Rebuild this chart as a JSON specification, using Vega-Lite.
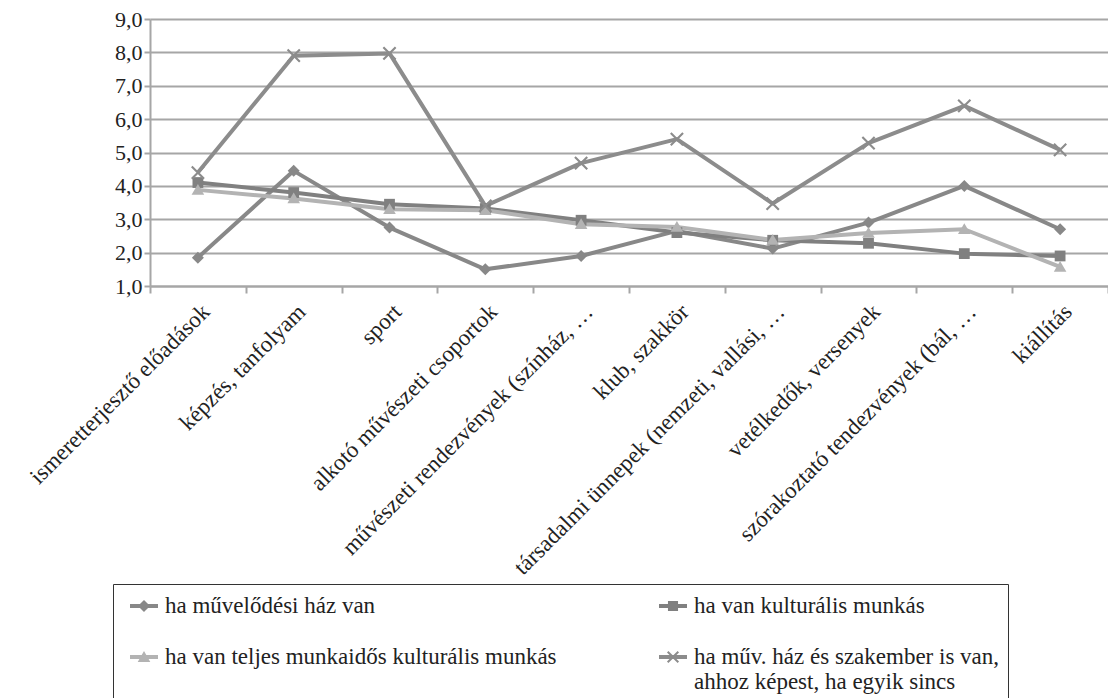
{
  "$schema": "https://vega.github.io/schema/vega-lite/v6.json",
  "width": 958,
  "height": 267,
  "autosize": {"type": "none"},
  "padding": {"left": 150, "top": 19, "right": 0, "bottom": 412},
  "background": "white",
  "config": {"view": {"stroke": null}, "font": "Liberation Serif"},
  "data": {"values": [
    {"kat": "ismeretterjesztő előadások", "s": "ha művelődési ház van", "v": 1.85},
    {"kat": "képzés, tanfolyam", "s": "ha művelődési ház van", "v": 4.45},
    {"kat": "sport", "s": "ha művelődési ház van", "v": 2.75},
    {"kat": "alkotó művészeti csoportok", "s": "ha művelődési ház van", "v": 1.5},
    {"kat": "művészeti rendezvények (színház, …", "s": "ha művelődési ház van", "v": 1.9},
    {"kat": "klub, szakkör", "s": "ha művelődési ház van", "v": 2.65},
    {"kat": "társadalmi ünnepek (nemzeti, vallási, …", "s": "ha művelődési ház van", "v": 2.12},
    {"kat": "vetélkedők, versenyek", "s": "ha művelődési ház van", "v": 2.9},
    {"kat": "szórakoztató tendezvények (bál, …", "s": "ha művelődési ház van", "v": 4.0},
    {"kat": "kiállítás", "s": "ha művelődési ház van", "v": 2.7},
    {"kat": "ismeretterjesztő előadások", "s": "ha van kulturális munkás", "v": 4.1},
    {"kat": "képzés, tanfolyam", "s": "ha van kulturális munkás", "v": 3.8},
    {"kat": "sport", "s": "ha van kulturális munkás", "v": 3.45},
    {"kat": "alkotó művészeti csoportok", "s": "ha van kulturális munkás", "v": 3.32},
    {"kat": "művészeti rendezvények (színház, …", "s": "ha van kulturális munkás", "v": 2.97},
    {"kat": "klub, szakkör", "s": "ha van kulturális munkás", "v": 2.6},
    {"kat": "társadalmi ünnepek (nemzeti, vallási, …", "s": "ha van kulturális munkás", "v": 2.37},
    {"kat": "vetélkedők, versenyek", "s": "ha van kulturális munkás", "v": 2.28},
    {"kat": "szórakoztató tendezvények (bál, …", "s": "ha van kulturális munkás", "v": 1.97},
    {"kat": "kiállítás", "s": "ha van kulturális munkás", "v": 1.9},
    {"kat": "ismeretterjesztő előadások", "s": "ha van teljes munkaidős kulturális munkás", "v": 3.88},
    {"kat": "képzés, tanfolyam", "s": "ha van teljes munkaidős kulturális munkás", "v": 3.62},
    {"kat": "sport", "s": "ha van teljes munkaidős kulturális munkás", "v": 3.3},
    {"kat": "alkotó művészeti csoportok", "s": "ha van teljes munkaidős kulturális munkás", "v": 3.27},
    {"kat": "művészeti rendezvények (színház, …", "s": "ha van teljes munkaidős kulturális munkás", "v": 2.85},
    {"kat": "klub, szakkör", "s": "ha van teljes munkaidős kulturális munkás", "v": 2.77},
    {"kat": "társadalmi ünnepek (nemzeti, vallási, …", "s": "ha van teljes munkaidős kulturális munkás", "v": 2.38},
    {"kat": "vetélkedők, versenyek", "s": "ha van teljes munkaidős kulturális munkás", "v": 2.59},
    {"kat": "szórakoztató tendezvények (bál, …", "s": "ha van teljes munkaidős kulturális munkás", "v": 2.7},
    {"kat": "kiállítás", "s": "ha van teljes munkaidős kulturális munkás", "v": 1.57},
    {"kat": "ismeretterjesztő előadások", "s": "ha műv. ház és szakember is van, ahhoz képest, ha egyik sincs", "v": 4.4},
    {"kat": "képzés, tanfolyam", "s": "ha műv. ház és szakember is van, ahhoz képest, ha egyik sincs", "v": 7.9},
    {"kat": "sport", "s": "ha műv. ház és szakember is van, ahhoz képest, ha egyik sincs", "v": 7.97},
    {"kat": "alkotó művészeti csoportok", "s": "ha műv. ház és szakember is van, ahhoz képest, ha egyik sincs", "v": 3.4},
    {"kat": "művészeti rendezvények (színház, …", "s": "ha műv. ház és szakember is van, ahhoz képest, ha egyik sincs", "v": 4.68},
    {"kat": "klub, szakkör", "s": "ha műv. ház és szakember is van, ahhoz képest, ha egyik sincs", "v": 5.4},
    {"kat": "társadalmi ünnepek (nemzeti, vallási, …", "s": "ha műv. ház és szakember is van, ahhoz képest, ha egyik sincs", "v": 3.47},
    {"kat": "vetélkedők, versenyek", "s": "ha műv. ház és szakember is van, ahhoz képest, ha egyik sincs", "v": 5.28},
    {"kat": "szórakoztató tendezvények (bál, …", "s": "ha műv. ház és szakember is van, ahhoz képest, ha egyik sincs", "v": 6.4},
    {"kat": "kiállítás", "s": "ha műv. ház és szakember is van, ahhoz képest, ha egyik sincs", "v": 5.08}
  ]},
  "encoding": {
    "x": {
      "field": "kat", "type": "nominal", "sort": null, "bandPosition": 0.5,
      "scale": {"type": "band", "paddingInner": 0, "paddingOuter": 0},
      "axis": {
        "title": null, "labelAngle": -45, "tickBand": "extent", "grid": false,
        "domainColor": "#a6a6a6", "domainWidth": 2,
        "tickColor": "#a6a6a6", "tickWidth": 2, "tickSize": 7,
        "labelFont": "Liberation Serif", "labelFontSize": 23, "labelColor": "#222222",
        "labelLimit": 0, "labelPadding": 7
      }
    },
    "y": {
      "field": "v", "type": "quantitative",
      "scale": {"domain": [1, 9], "nice": false, "zero": false},
      "axis": {
        "title": null, "values": [1, 2, 3, 4, 5, 6, 7, 8, 9], "format": ".1f",
        "labelExpr": "replace(datum.label, '.', ',')",
        "grid": true, "gridColor": "#a6a6a6", "gridWidth": 2,
        "domainColor": "#a6a6a6", "domainWidth": 2,
        "tickColor": "#a6a6a6", "tickWidth": 2, "tickSize": 6,
        "labelFont": "Liberation Serif", "labelFontSize": 22, "labelColor": "#222222", "labelPadding": 2
      }
    },
    "color": {
      "field": "s", "type": "nominal",
      "scale": {
        "domain": ["ha művelődési ház van", "ha van kulturális munkás", "ha van teljes munkaidős kulturális munkás", "ha műv. ház és szakember is van, ahhoz képest, ha egyik sincs"],
        "range": ["#888888", "#808080", "#b3b3b3", "#8c8c8c"]
      },
      "legend": {
        "title": null, "orient": "none", "legendX": -37, "legendY": 565,
        "direction": "horizontal", "columns": 2, "columnPadding": 93, "rowPadding": 25,
        "strokeColor": "#333333", "fillColor": "white", "padding": 8, "symbolOffset": 9,
        "labelFont": "Liberation Serif", "labelFontSize": 23, "labelColor": "#222222", "labelLimit": 0, "labelOffset": 7,
        "symbolSize": 784,
        "labelExpr": "datum.label == 'ha műv. ház és szakember is van, ahhoz képest, ha egyik sincs' ? ['ha műv. ház és szakember is van,', 'ahhoz képest, ha egyik sincs'] : datum.label",
        "encode": {
          "symbols": {
            "update": {
              "shape": {"signal": "datum.value == 'ha művelődési ház van' ? 'M-1,-0.14H1V0.14H-1Z M0,-0.43L0.43,0L0,0.43L-0.43,0Z' : datum.value == 'ha van kulturális munkás' ? 'M-1,-0.14H1V0.14H-1Z M-0.36,-0.36H0.36V0.36H-0.36Z' : datum.value == 'ha van teljes munkaidős kulturális munkás' ? 'M-1,-0.14H1V0.14H-1Z M0,-0.43L0.45,0.36L-0.45,0.36Z' : 'M-1,-0.14H1V0.14H-1Z M-0.43,-0.33L-0.33,-0.43L0.43,0.33L0.33,0.43Z M-0.33,0.43L-0.43,0.33L0.33,-0.43L0.43,-0.33Z'"},
              "fill": {"signal": "datum.value == 'ha van teljes munkaidős kulturális munkás' ? '#b3b3b3' : '#888888'"},
              "stroke": {"value": null},
              "strokeWidth": {"value": 0},
              "opacity": {"value": 1}
            }
          }
        }
      }
    }
  },
  "layer": [
    {"mark": {"type": "line", "strokeWidth": 4, "strokeJoin": "round"}},
    {
      "transform": [{"filter": "datum.s == 'ha művelődési ház van'"}],
      "mark": {"type": "point", "filled": true, "size": 144, "opacity": 1, "shape": "M0,-1L1,0L0,1L-1,0Z"}
    },
    {
      "transform": [{"filter": "datum.s == 'ha van kulturális munkás'"}],
      "mark": {"type": "point", "filled": true, "size": 144, "opacity": 1, "shape": "M-0.9,-0.9H0.9V0.9H-0.9Z"}
    },
    {
      "transform": [{"filter": "datum.s == 'ha van teljes munkaidős kulturális munkás'"}],
      "mark": {"type": "point", "filled": true, "size": 144, "opacity": 1, "shape": "M0,-1L1.05,0.8L-1.05,0.8Z"}
    },
    {
      "transform": [{"filter": "datum.s == 'ha műv. ház és szakember is van, ahhoz képest, ha egyik sincs'"}],
      "mark": {"type": "point", "filled": true, "size": 144, "opacity": 1, "shape": "M-1.15,-0.9L-0.9,-1.15L1.15,0.9L0.9,1.15Z M-0.9,1.15L-1.15,0.9L0.9,-1.15L1.15,-0.9Z"}
    }
  ]
}
